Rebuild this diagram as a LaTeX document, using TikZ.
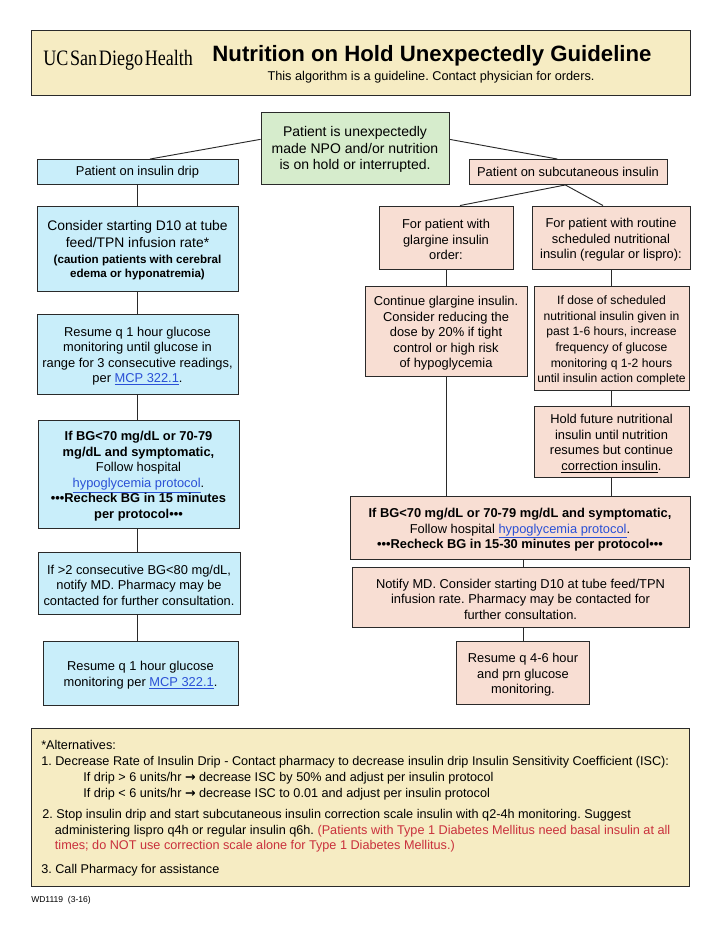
\documentclass[tikz,border=0pt]{standalone}
\usepackage{fontspec}
\setmainfont{Liberation Sans}
\newfontfamily\logofont[FakeStretch=0.82,WordSpace=0.4]{Liberation Serif}
\newfontfamily\arrowfont{DejaVu Sans}
\definecolor{headfill}{HTML}{F6ECC3}
\definecolor{greenfill}{HTML}{D6ECCC}
\definecolor{bluefill}{HTML}{C9EEFA}
\definecolor{peachfill}{HTML}{F8DED3}
\definecolor{linkblue}{HTML}{2A50D6}
\definecolor{noteRed}{HTML}{C9303C}
\definecolor{boxline}{HTML}{2A2A2A}
\newcommand{\maillink}[1]{\textcolor{linkblue}{\underline{#1}}}
\newcommand{\pushdown}{\rule{0pt}{10.3pt}}
\newcommand{\bodyfont}{\fontsize{9.65}{11.6}\selectfont}
\newcommand{\notefont}{\fontsize{9.5}{11.8}\selectfont}
\AtBeginDocument{\frenchspacing}
\tikzset{
  boxsize/.style 2 args={minimum width=#1*0.75pt,minimum height=#2*0.75pt},
  flowbox/.style={draw=boxline,line width=0.7pt,align=center,inner sep=0pt,font=\bodyfont},
  headbox/.style={flowbox,fill=headfill},
  startbox/.style={flowbox,fill=greenfill},
  dripbox/.style={flowbox,fill=bluefill},
  subqbox/.style={flowbox,fill=peachfill},
  flowline/.style={draw=boxline,line width=0.7pt},
  notetext/.style={anchor=north west,inner sep=0pt,align=left,font=\notefont},
}
\begin{document}
\begin{tikzpicture}[x=0.75pt,y=0.75pt,yscale=-1,xscale=1]
\useasboundingbox (0,0) rectangle (720,931);

% Header
\draw (361,62.5) node (header) [headbox,boxsize={659}{65}] {};
\draw (43,60) node (logo) [anchor=west,inner sep=0pt,font=\logofont\fontsize{16.5}{18}\selectfont] {UC San Diego Health};
\draw (432,56) node (title) [inner sep=0pt,font=\bfseries\fontsize{16.65}{18}\selectfont] {Nutrition on Hold Unexpectedly Guideline};
\draw (431,77) node (subtitle) [inner sep=0pt,font=\fontsize{9.55}{11}\selectfont] {This algorithm is a guideline. Contact physician for orders.};

% Start
\draw (355,148) node (start) [startbox,boxsize={188}{72},font=\fontsize{10.5}{12.4}\selectfont] {\pushdown Patient is unexpectedly\\made NPO and/or nutrition\\is on hold or interrupted.};
\draw (137.5,172) node (drip) [dripbox,boxsize={201}{25}] {Patient on insulin drip};
\draw (568,172) node (subq) [subqbox,boxsize={198}{25}] {Patient on subcutaneous insulin};

% Left column
\draw (137.5,248.5) node (dten) [dripbox,boxsize={201}{85}] {\pushdown\fontsize{10.4}{12.8}\selectfont Consider starting D10 at tube\\[1.1pt]\fontsize{10.4}{12.8}\selectfont feed/TPN infusion rate*\\[0.4pt]\bfseries\fontsize{8.7}{11.6}\selectfont (caution patients with cerebral\\[-1pt]\bfseries\fontsize{8.7}{11.6}\selectfont edema or hyponatremia)};
\draw (137.5,354) node (hourly) [dripbox,boxsize={201}{80}] {\pushdown Resume q 1 hour glucose\\monitoring until glucose in\\range for 3 consecutive readings,\\per \maillink{MCP 322.1}.};
\draw (138.5,474) node (lowbg) [dripbox,boxsize={201}{108}] {\pushdown\bfseries If BG<70 mg/dL or 70-79\\\bfseries mg/dL and symptomatic,\\Follow hospital\\\maillink{hypoglycemia protocol}.\\\bfseries •••Recheck BG in 15 minutes\\\bfseries per protocol•••};
\draw (139,583) node (notifyl) [dripbox,boxsize={202}{62}] {\pushdown If >2 consecutive BG<80 mg/dL,\\notify MD. Pharmacy may be\\contacted for further consultation.};
\draw (140.5,673) node (hourlyb) [dripbox,boxsize={195}{64}] {\pushdown Resume q 1 hour glucose\\monitoring per \maillink{MCP 322.1}.};

% Right columns
\draw (446,237.5) node (glargine) [subqbox,boxsize={134}{63}] {\pushdown For patient with\\glargine insulin\\order:};
\draw (611,237.5) node (routine) [subqbox,boxsize={158}{63}] {\pushdown For patient with routine\\scheduled nutritional\\insulin (regular or lispro):};
\draw (446,331) node (contgl) [subqbox,boxsize={162}{90}] {\pushdown Continue glargine insulin.\\Consider reducing the\\dose by 20\% if tight\\control or high risk\\of hypoglycemia};
\draw (611.5,338) node (dose) [subqbox,boxsize={155}{104},font=\fontsize{9.1}{11.7}\selectfont] {\pushdown If dose of scheduled\\nutritional insulin given in\\past 1-6 hours, increase\\frequency of glucose\\monitoring q 1-2 hours\\until insulin action complete};
\draw (611.5,441.5) node (hold) [subqbox,boxsize={155}{71}] {\pushdown Hold future nutritional\\insulin until nutrition\\resumes but continue\\\underline{correction insulin}.};
\draw (520,527.5) node (lowbgr) [subqbox,boxsize={340}{63}] {\pushdown\bfseries If BG<70 mg/dL or 70-79 mg/dL and symptomatic,\\Follow hospital \maillink{hypoglycemia protocol}.\\\bfseries •••Recheck BG in 15-30 minutes per protocol•••};
\draw (520.5,597) node (notifyr) [subqbox,boxsize={337}{60}] {\pushdown Notify MD. Consider starting D10 at tube feed/TPN\\infusion rate. Pharmacy may be contacted for\\further consultation.};
\draw (523,672.5) node (resumer) [subqbox,boxsize={133}{63}] {\pushdown Resume q 4-6 hour\\and prn glucose\\monitoring.};

% Straight Lines
\draw [flowline] ([yshift=-6.5pt]start.west) -- ([xshift=9.4pt]drip.north);
\draw [flowline] ([yshift=-6.5pt]start.east) -- ([xshift=-8pt]subq.north);
\draw [flowline] ([xshift=-2pt]subq.south) -- ([xshift=10.5pt]glargine.north);
\draw [flowline] ([xshift=-2pt]subq.south) -- ([xshift=-6pt]routine.north);
\draw [flowline] (dten.north |- drip.south) -- (dten.north);
\draw [flowline] (dten.south) -- (dten.south |- hourly.north);
\draw [flowline] (dten.south |- hourly.south) -- (dten.south |- lowbg.north);
\draw [flowline] (dten.south |- lowbg.south) -- (dten.south |- notifyl.north);
\draw [flowline] (dten.south |- notifyl.south) -- (dten.south |- hourlyb.north);
\draw [flowline] (glargine) -- (contgl);
\draw [flowline] (contgl.south) -- (contgl.south |- lowbgr.north);
\draw [flowline] (routine.south) -- (routine.south |- dose.north);
\draw [flowline] (routine.south |- dose.south) -- (routine.south |- hold.north);
\draw [flowline] (routine.south |- hold.south) -- (routine.south |- lowbgr.north);
\draw [flowline] (resumer.north |- lowbgr.south) -- (resumer.north |- notifyr.north);
\draw [flowline] (resumer.north |- notifyr.south) -- (resumer.north);

% Alternatives
\draw (360,807) node (altbox) [headbox,boxsize={658}{158}] {};
\draw (41,740) node (altq) [notetext] {*Alternatives:};
\draw (41,756) node (altone) [notetext] {1. Decrease Rate of Insulin Drip - Contact pharmacy to decrease insulin drip Insulin Sensitivity Coefficient (ISC):};
\draw (83,772) node (altonea) [notetext] {If drip > 6 units/hr {\arrowfont\bfseries →} decrease ISC by 50\% and adjust per insulin protocol};
\draw (83,788) node (altoneb) [notetext] {If drip < 6 units/hr {\arrowfont\bfseries →} decrease ISC to 0.01 and adjust per insulin protocol};
\draw (42,809) node (alttwo) [notetext] {2. Stop insulin drip and start subcutaneous insulin correction scale insulin with q2-4h monitoring. Suggest\\\hspace*{1em}administering lispro q4h or regular insulin q6h. \textcolor{noteRed}{(Patients with Type 1 Diabetes Mellitus need basal insulin at all}\\\hspace*{1em}\textcolor{noteRed}{times; do NOT use correction scale alone for Type 1 Diabetes Mellitus.)}};
\draw (41,864) node (altthree) [notetext] {3. Call Pharmacy for assistance};

% Text Node
\draw (31,900) node (wdcode) [anchor=west,inner sep=0pt,font=\fontsize{6.4}{8}\selectfont] {WD1119\ \ (3-16)};
\end{tikzpicture}
\end{document}
